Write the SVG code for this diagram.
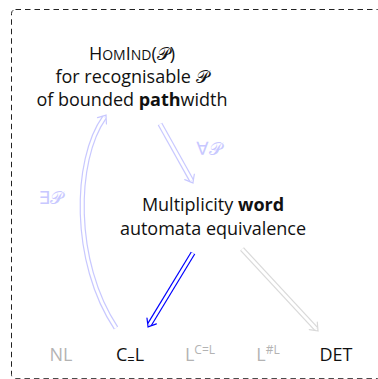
<svg xmlns="http://www.w3.org/2000/svg" width="378" height="379" viewBox="0 0 378 379">
  <style>
    text { font-family: "Open Sans", "Noto Sans", "DejaVu Sans", sans-serif; font-size: 18px; fill: #111; }
    .mid { text-anchor: middle; }
    .gray { fill: #b3b3b3; }
    .lbl { fill: #c8c8ff; }
    .b { font-weight: bold; }
    .sc { font-size: 14px; }
    .cal { font-family: "DejaVu Sans", "Noto Sans", serif; font-style: normal; }
    .outer { fill: none; stroke-width: 5.2; stroke-linecap: butt; }
    .inner { fill: none; stroke: #fff; stroke-width: 2.8; stroke-linecap: butt; }
  </style>
  <defs>
    <marker id="hLB" markerUnits="userSpaceOnUse" viewBox="-10 -10 20 20" markerWidth="20" markerHeight="20" refX="-3" refY="0" orient="auto" overflow="visible">
      <path d="M-7,-5.5 Q-2.2,-1.6 0,0 Q-2.2,1.6 -7,5.5" fill="none" stroke="#c8c8ff" stroke-width="1.2" stroke-linecap="round"/>
    </marker>
    <marker id="hB" markerUnits="userSpaceOnUse" viewBox="-10 -10 20 20" markerWidth="20" markerHeight="20" refX="-3" refY="0" orient="auto" overflow="visible">
      <path d="M-7,-5.5 Q-2.2,-1.6 0,0 Q-2.2,1.6 -7,5.5" fill="none" stroke="#0000ff" stroke-width="1.2" stroke-linecap="round"/>
    </marker>
    <marker id="hG" markerUnits="userSpaceOnUse" viewBox="-10 -10 20 20" markerWidth="20" markerHeight="20" refX="-3" refY="0" orient="auto" overflow="visible">
      <path d="M-7,-5.5 Q-2.2,-1.6 0,0 Q-2.2,1.6 -7,5.5" fill="none" stroke="#d9d9d9" stroke-width="1.2" stroke-linecap="round"/>
    </marker>
  </defs>

  <rect id="frame" x="11.5" y="9.5" width="370" height="369.2" rx="4" fill="none" stroke="#222" stroke-width="1" stroke-dasharray="5.5 4"/>

  <g id="connectors">
    <g id="e-exists">
      <path class="outer" stroke="#c8c8ff" d="M116,328 C72,262 74,160 104.3,117.5"/>
      <path class="inner" d="M116,328 C72,262 74,160 104.3,117.5" marker-end="url(#hLB)"/>
      <text class="lbl" x="51" y="204" text-anchor="middle">∃<tspan class="cal">𝒫</tspan></text>
    </g>
    <g id="e-forall">
      <path class="outer" stroke="#c8c8ff" d="M160,124 L191.5,180.4"/>
      <path class="inner" d="M160,124 L191.5,180.4" marker-end="url(#hLB)"/>
      <text class="lbl" x="209" y="155" text-anchor="middle">∀<tspan class="cal">𝒫</tspan></text>
    </g>
    <g id="e-ceql">
      <path class="outer" stroke="#0000ff" d="M193,253 L149.6,324.4"/>
      <path class="inner" d="M193,253 L149.6,324.4" marker-end="url(#hB)"/>
    </g>
    <g id="e-det">
      <path class="outer" stroke="#d9d9d9" d="M242,249 L316,328.8"/>
      <path class="inner" d="M242,249 L316,328.8" marker-end="url(#hG)"/>
    </g>
  </g>

  <g id="n-homind">
    <text class="mid" x="132" y="60">H<tspan class="sc">OM</tspan>I<tspan class="sc">ND</tspan>(<tspan class="cal">𝒫</tspan>)</text>
    <text class="mid" x="132" y="83">for recognisable <tspan class="cal">𝒫</tspan></text>
    <text class="mid" x="132" y="106">of bounded <tspan class="b">path</tspan>width</text>
  </g>

  <g id="n-mwae">
    <text class="mid" x="213" y="211">Multiplicity <tspan class="b">word</tspan></text>
    <text class="mid" x="213" y="235">automata equivalence</text>
  </g>

  <g id="n-nl"><text class="mid gray" x="61" y="361">NL</text></g>
  <g id="n-ceql"><text class="mid" x="130" y="361">C<tspan font-size="13" dy="3">=</tspan><tspan dy="-3">L</tspan></text></g>
  <g id="n-lceql"><text class="mid gray" x="200" y="361">L<tspan font-size="12" dy="-7">C=L</tspan></text></g>
  <g id="n-lsharpl"><text class="mid gray" x="268" y="361">L<tspan font-size="12" dy="-7">#L</tspan></text></g>
  <g id="n-det"><text class="mid" x="336" y="361">DET</text></g>
</svg>
